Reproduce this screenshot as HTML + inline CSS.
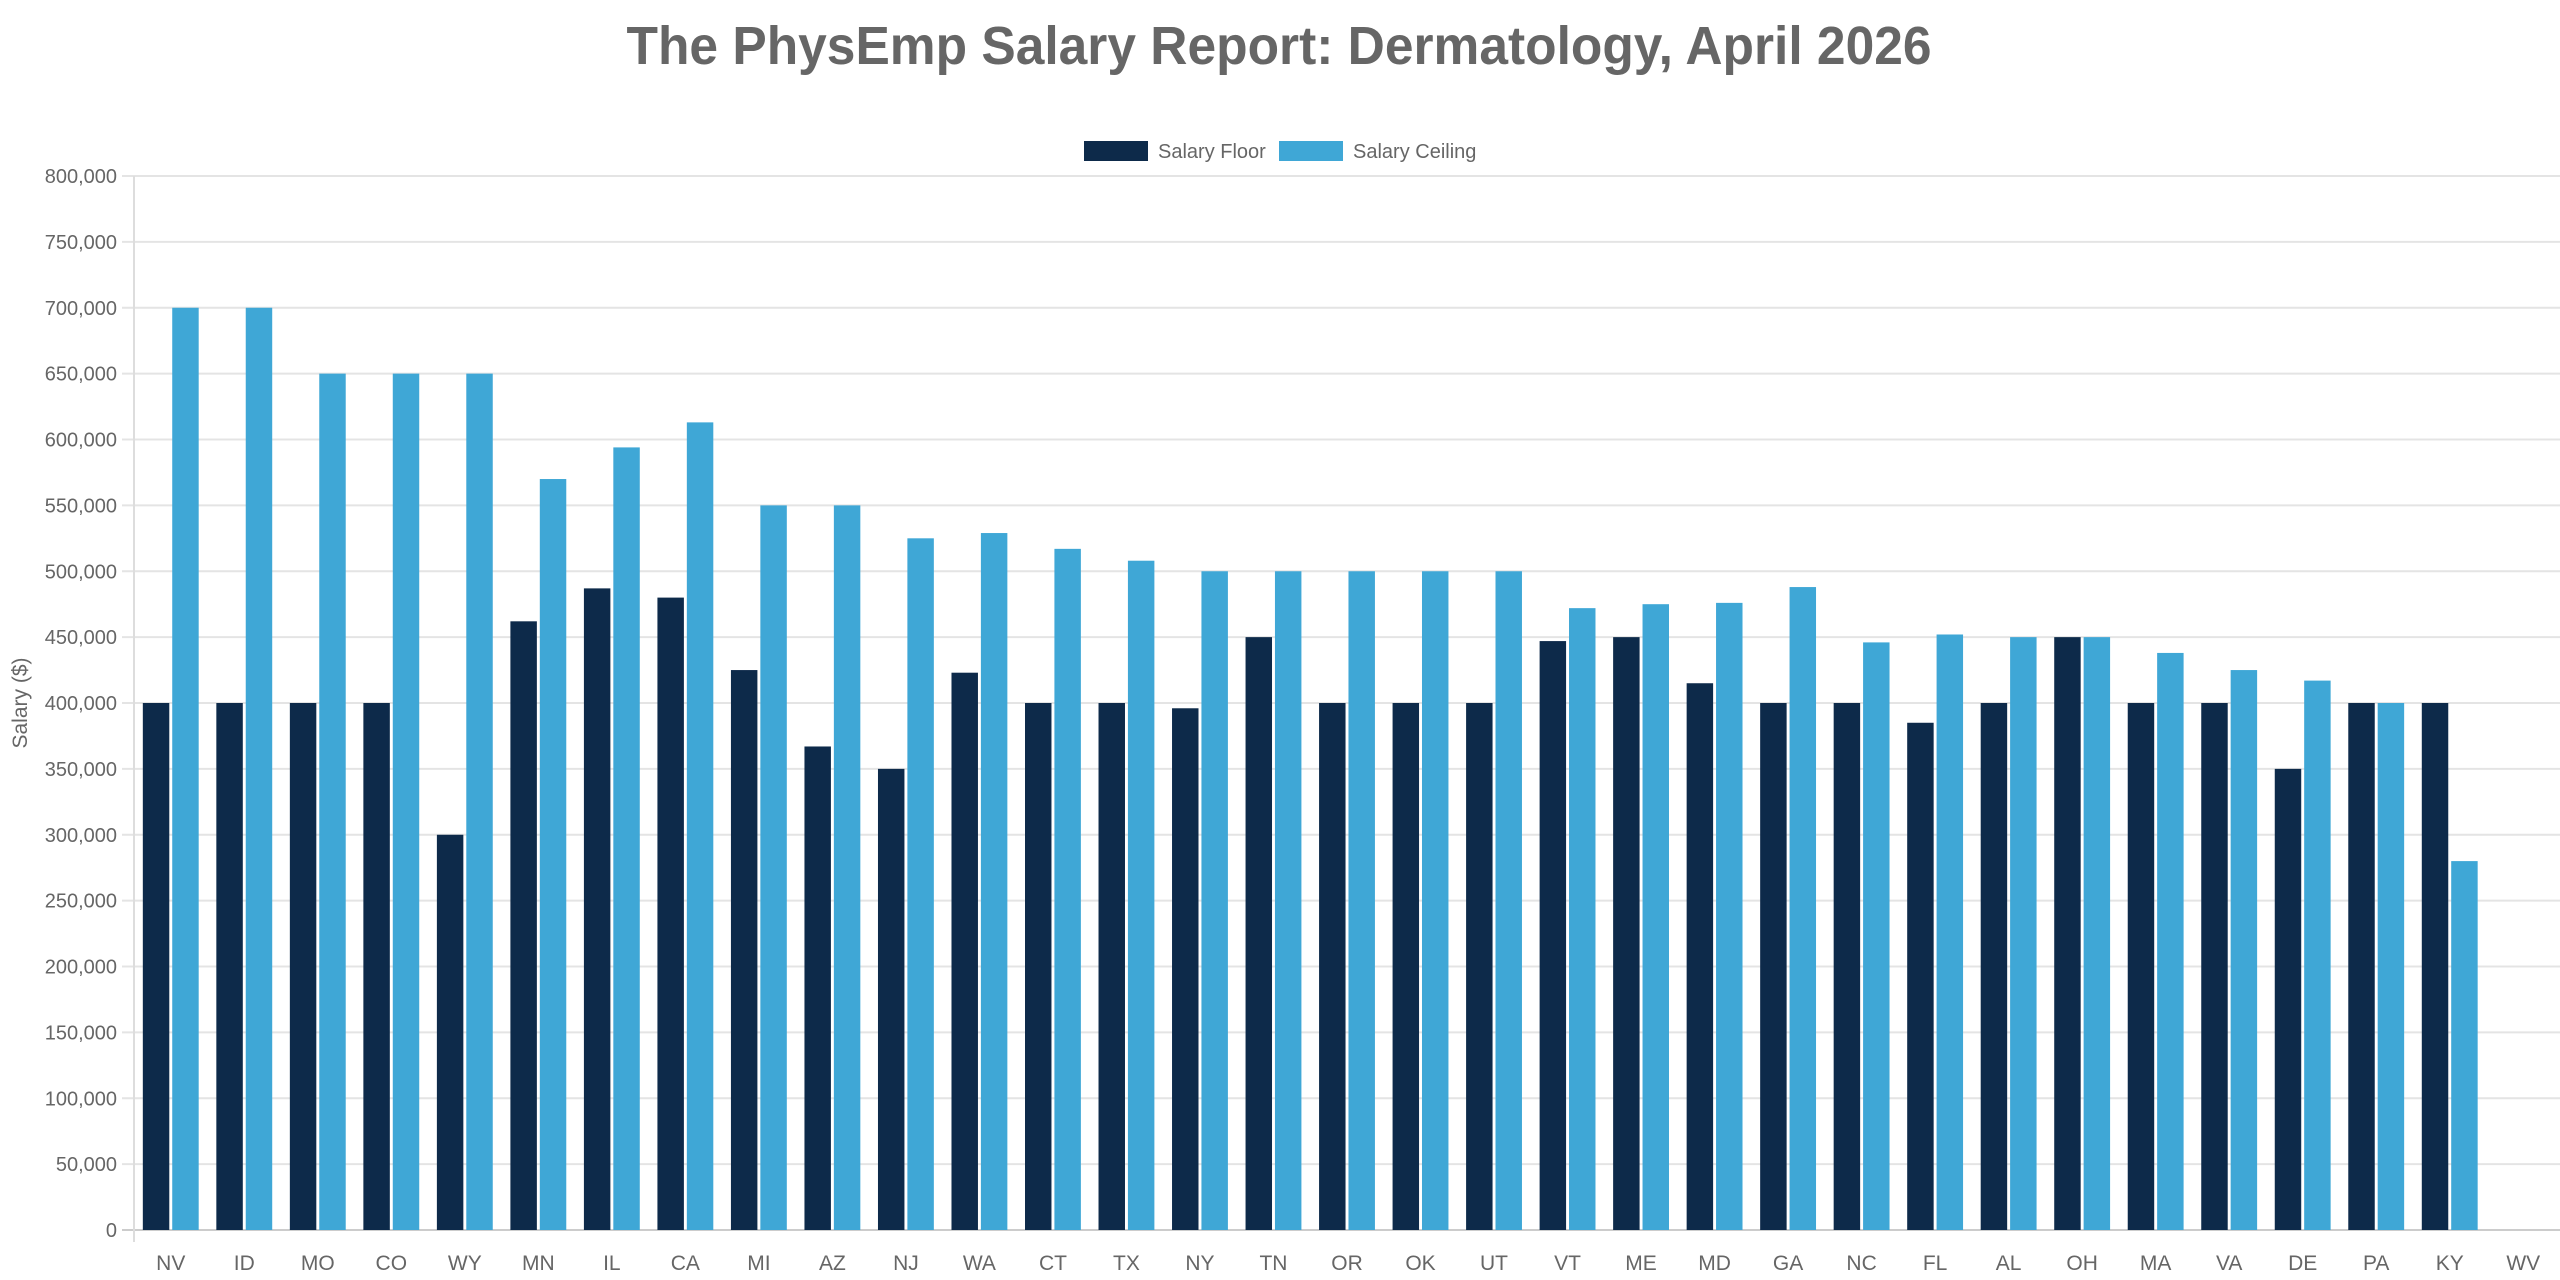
<!DOCTYPE html>
<html><head><meta charset="utf-8"><style>
body{margin:0;background:#fff;}
svg{display:block;font-family:"Liberation Sans",sans-serif;}
</style></head><body>
<svg id="chart" width="2560" height="1280" viewBox="0 0 2560 1280">
<text x="1279" y="64" text-anchor="middle" font-size="54" font-weight="bold" fill="#666" textLength="1305" lengthAdjust="spacingAndGlyphs">The PhysEmp Salary Report: Dermatology, April 2026</text>
<g>
<g><rect x="1084" y="141" width="64" height="20" fill="#0d2a4a"/><text x="1158" y="158" font-size="20" fill="#666">Salary Floor</text></g>
<g><rect x="1279" y="141" width="64" height="20" fill="#3fa7d6"/><text x="1353" y="158" font-size="20" fill="#666">Salary Ceiling</text></g>
</g>
<text transform="translate(27,703) rotate(-90)" text-anchor="middle" font-size="21" fill="#666">Salary ($)</text>
<g id="grid"></g><g id="bars"></g><g id="xl"></g>
</svg>
<script>
const categories=["NV","ID","MO","CO","WY","MN","IL","CA","MI","AZ","NJ","WA","CT","TX","NY","TN","OR","OK","UT","VT","ME","MD","GA","NC","FL","AL","OH","MA","VA","DE","PA","KY","WV"];
const floorValues=[400000,400000,400000,400000,300000,462000,487000,480000,425000,367000,350000,423000,400000,400000,396000,450000,400000,400000,400000,447000,450000,415000,400000,400000,385000,400000,450000,400000,400000,350000,400000,400000,null];
const ceilingValues=[700000,700000,650000,650000,650000,570000,594000,613000,550000,550000,525000,529000,517000,508000,500000,500000,500000,500000,500000,472000,475000,476000,488000,446000,452000,450000,450000,438000,425000,417000,400000,280000,null];
const yTicks=[0,50000,100000,150000,200000,250000,300000,350000,400000,450000,500000,550000,600000,650000,700000,750000,800000];
const NS="http://www.w3.org/2000/svg";
const L=134,R=2560,T=176,B=1230,YMAX=800000;
const y=v=>B-(v/YMAX)*(B-T);
const cw=(R-L)/categories.length;
const xc=i=>L+cw*(i+0.5);
function mk(t,a,p){const e=document.createElementNS(NS,t);for(const k in a)e.setAttribute(k,a[k]);p.appendChild(e);return e;}
const grid=document.getElementById('grid');
yTicks.forEach(v=>{
 const l=mk('line',{x1:L-12,x2:R,y1:y(v),y2:y(v),stroke:v===0?'#ccc':'#e4e4e4','stroke-width':2},grid);
 
 
 const t=mk('text',{x:L-17,y:y(v)+7,'text-anchor':'end','font-size':20,fill:'#666'},grid);
 t.textContent=v.toLocaleString('en-US');
 
 
});
const ax=mk('line',{x1:L,x2:L,y1:T,y2:B+12,stroke:'#ddd','stroke-width':2},grid);


const bars=document.getElementById('bars'),xl=document.getElementById('xl');
const slot=cw*0.8/2,bw=slot*0.9;
categories.forEach((c,i)=>{
 [[floorValues,'#0d2a4a',0],[ceilingValues,'#3fa7d6',1]].forEach(([arr,col,k])=>{
  const v=arr[i]; if(v==null)return;
  const cx=xc(i)-cw*0.4+slot*(k+0.5);
  const r=mk('rect',{x:cx-bw/2,y:y(v),width:bw,height:B-y(v),fill:col},bars);
  
  
 });
 const t=mk('text',{x:xc(i),y:1270,'text-anchor':'middle','font-size':21,fill:'#666'},xl);
 t.textContent=c;
 
 
});
</script>
</body></html>
